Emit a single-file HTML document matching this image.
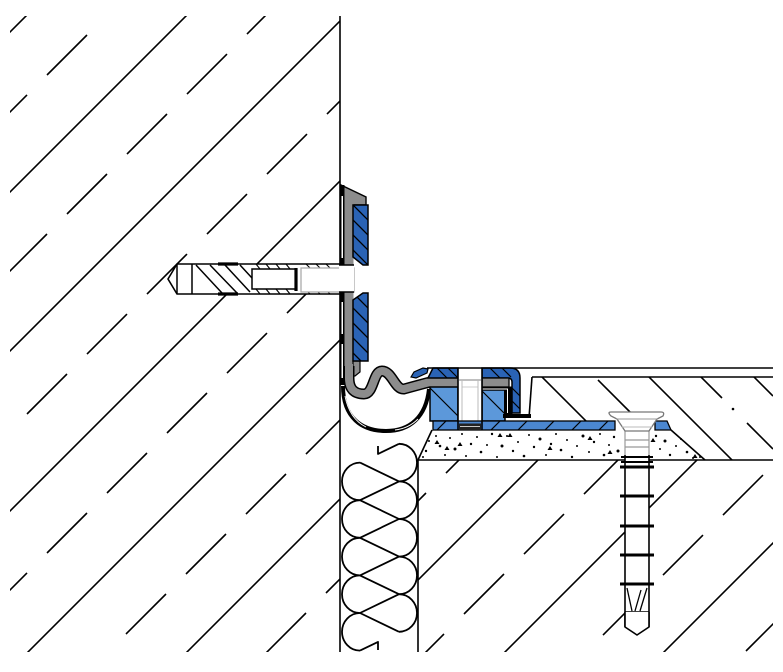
<!DOCTYPE html>
<html><head><meta charset="utf-8">
<style>html,body{margin:0;padding:0;background:#fff;width:783px;height:672px;overflow:hidden}svg{display:block;overflow:hidden}</style>
</head>
<body>
<svg width="783" height="672" viewBox="0 0 783 672" xmlns="http://www.w3.org/2000/svg">
<defs>
<clipPath id="cL"><rect x="10" y="16" width="330" height="636"/></clipPath>
<clipPath id="cR"><rect x="418" y="460" width="355" height="192"/></clipPath>
<clipPath id="cS"><polygon points="532,377 773,377 773,460 705,460 671,430 667,421 532,421"/></clipPath>
<clipPath id="cBU"><polygon points="353,205 368,205 368,265 363,265 353,257"/></clipPath>
<clipPath id="cBL"><polygon points="353,300 363,293 368,293 368,361 353,361"/></clipPath>
<g id="hatch" stroke="#000" stroke-width="1.6" fill="none">
<line x1="0" y1="42" x2="42" y2="0"/>
<line x1="0" y1="202" x2="202" y2="0"/>
<line x1="0" y1="361" x2="361" y2="0"/>
<line x1="0" y1="521" x2="521" y2="0"/>
<line x1="8" y1="672" x2="680" y2="0"/>
<line x1="167" y1="672" x2="783" y2="56"/>
<line x1="326" y1="672" x2="783" y2="215"/>
<line x1="485" y1="672" x2="783" y2="374"/>
<line x1="644" y1="672" x2="783" y2="533"/>
<g stroke-dasharray="56.57 28.28">
<line x1="0" y1="122" x2="122" y2="0" stroke-dashoffset="18.38"/>
<line x1="0" y1="281" x2="281" y2="0" stroke-dashoffset="74.95"/>
<line x1="0" y1="441" x2="441" y2="0" stroke-dashoffset="46.67"/>
<line x1="0" y1="600" x2="600" y2="0" stroke-dashoffset="18.38"/>
<line x1="88" y1="672" x2="760" y2="0" stroke-dashoffset="31.11"/>
<line x1="247" y1="672" x2="783" y2="136" stroke-dashoffset="57.98"/>
<line x1="406" y1="672" x2="783" y2="295" stroke-dashoffset="2.83"/>
<line x1="566" y1="672" x2="783" y2="455" stroke-dashoffset="32.53"/>
<line x1="725" y1="672" x2="783" y2="614" stroke-dashoffset="55.15"/>
</g>
</g>
</defs>
<rect width="783" height="672" fill="#fff"/>

<!-- concrete hatching -->
<use href="#hatch" clip-path="url(#cL)"/>
<use href="#hatch" clip-path="url(#cR)"/>

<!-- screed hatch -->
<g clip-path="url(#cS)" stroke="#000" stroke-width="1.6">
<line x1="532" y1="367" x2="600" y2="435"/>
<line x1="598" y1="380" x2="634" y2="416"/>
<line x1="640" y1="368" x2="740" y2="468"/>
<line x1="701" y1="377" x2="722" y2="398"/>
<line x1="747" y1="423" x2="773" y2="449"/>
<line x1="750" y1="373" x2="773" y2="396"/>
</g>
<circle cx="733" cy="409" r="1.3" fill="#000"/>

<!-- mortar bed dots -->
<g fill="#000">
<circle cx="436" cy="436" r="1"/><circle cx="440" cy="446" r="1.3"/><circle cx="445" cy="455" r="1"/><circle cx="450" cy="438" r="1"/><circle cx="455" cy="449" r="1.5"/><circle cx="462" cy="434" r="1"/><circle cx="466" cy="456" r="1"/><circle cx="471" cy="444" r="1.2"/><circle cx="477" cy="437" r="1"/><circle cx="481" cy="452" r="1.3"/><circle cx="487" cy="445" r="1"/><circle cx="492" cy="434" r="1.2"/><circle cx="497" cy="457" r="1"/><circle cx="502" cy="446" r="1.5"/><circle cx="507" cy="436" r="1"/><circle cx="513" cy="451" r="1.2"/><circle cx="518" cy="442" r="1"/><circle cx="524" cy="456" r="1.3"/><circle cx="529" cy="435" r="1"/><circle cx="534" cy="447" r="1.2"/><circle cx="540" cy="439" r="1.5"/><circle cx="546" cy="455" r="1"/><circle cx="551" cy="444" r="1.2"/><circle cx="556" cy="434" r="1"/><circle cx="561" cy="450" r="1.3"/><circle cx="567" cy="440" r="1"/><circle cx="572" cy="457" r="1.2"/><circle cx="577" cy="446" r="1"/><circle cx="583" cy="436" r="1.5"/><circle cx="589" cy="452" r="1"/><circle cx="594" cy="442" r="1.2"/><circle cx="600" cy="434" r="1"/><circle cx="604" cy="455" r="1.3"/><circle cx="609" cy="445" r="1"/><circle cx="614" cy="437" r="1.2"/><circle cx="618" cy="451" r="1.5"/><circle cx="656" cy="436" r="1.2"/><circle cx="660" cy="449" r="1"/><circle cx="665" cy="441" r="1.5"/><circle cx="670" cy="455" r="1.2"/><circle cx="676" cy="446" r="1"/><circle cx="681" cy="439" r="1"/><circle cx="687" cy="452" r="1.3"/><circle cx="693" cy="458" r="1"/><circle cx="426" cy="451" r="1.2"/><circle cx="429" cy="441" r="1"/><circle cx="423" cy="457" r="1"/><circle cx="700" cy="457" r="1"/>
<polygon points="437,440 439.5,444 434.5,444"/><polygon points="447,446 449.5,450 444.5,450"/><polygon points="500,433 502.5,437 497.5,437"/><polygon points="510,433 512.5,437 507.5,437"/><polygon points="610,450 612.5,454 607.5,454"/><polygon points="653,438 655.5,442 650.5,442"/><polygon points="695,454 697.5,458 692.5,458"/><polygon points="550,446 552.5,450 547.5,450"/><polygon points="460,442 462.5,446 457.5,446"/><polygon points="590,436 592.5,440 587.5,440"/>
</g>

<!-- structural lines -->
<g stroke="#000" stroke-width="1.6" fill="none">
<line x1="340" y1="16" x2="340" y2="652"/>
<line x1="418" y1="460" x2="418" y2="652"/>
<line x1="418" y1="460" x2="773" y2="460"/>
<line x1="418" y1="460" x2="432" y2="430"/>
<line x1="671" y1="430" x2="705" y2="460"/>
<line x1="532" y1="377" x2="773" y2="377"/>
<line x1="532" y1="377" x2="529" y2="418"/>
</g>

<!-- insulation -->
<g stroke="#000" stroke-width="1.8" fill="none" stroke-linejoin="round">
<polyline points="360,462.6 399,481.4 360,500.2 399,519 360,537.8 399,556.6 360,575.4 399,594.2 360,613 399,631.8"/>
<polyline points="378,446 378,454 399,443.8"/>
<polyline points="360,650.6 378,641.9 378,650"/>
<path d="M399,443.8 A18,18.8 0 0 1 399,481.4 A18,18.8 0 0 1 399,519 A18,18.8 0 0 1 399,556.6 A18,18.8 0 0 1 399,594.2 A18,18.8 0 0 1 399,631.8"/>
<path d="M360,462.6 A18,18.8 0 0 0 360,500.2 A18,18.8 0 0 0 360,537.8 A18,18.8 0 0 0 360,575.4 A18,18.8 0 0 0 360,613 A18,18.8 0 0 0 360,650.6"/>
</g>

<!-- wall anchor -->
<polygon points="168,279 177,264 340,264 340,294 177,294" fill="#fff" stroke="#000" stroke-width="1.6"/>
<g stroke="#000" stroke-width="1.5" fill="none">
<line x1="177" y1="264" x2="177" y2="294"/>
<line x1="192" y1="264" x2="192" y2="294"/>
<line x1="196" y1="265" x2="222" y2="293"/>
<line x1="210" y1="265" x2="237" y2="293"/>
<line x1="225" y1="265" x2="250" y2="292"/>
<line x1="240" y1="265" x2="252" y2="278"/>
<rect x="252" y="269" width="44" height="20" fill="#fff"/>
</g>
<g stroke="#000" stroke-width="3.2">
<line x1="218" y1="264" x2="238" y2="264"/>
<line x1="218" y1="294" x2="238" y2="294"/>
<line x1="296" y1="268" x2="296" y2="291"/>
</g>
<g stroke="#000" stroke-width="1.1">
<line x1="256" y1="264" x2="260" y2="269"/><line x1="266" y1="264" x2="270" y2="269"/><line x1="276" y1="264" x2="280" y2="269"/><line x1="286" y1="264" x2="290" y2="269"/><line x1="306" y1="264" x2="310" y2="268"/><line x1="316" y1="264" x2="320" y2="268"/><line x1="326" y1="264" x2="330" y2="268"/>
<line x1="256" y1="289" x2="260" y2="294"/><line x1="266" y1="289" x2="270" y2="294"/><line x1="276" y1="289" x2="280" y2="294"/><line x1="286" y1="289" x2="290" y2="294"/><line x1="306" y1="290" x2="310" y2="294"/><line x1="316" y1="290" x2="320" y2="294"/><line x1="326" y1="290" x2="330" y2="294"/>
</g>
<rect x="301" y="268" width="53" height="24" fill="#fff" stroke="#aaa" stroke-width="1.3"/>

<!-- vertical profile leg -->
<polygon points="341,185 366,197 366,205 344,205" fill="#8c8c8c" stroke="#000" stroke-width="1.4"/>
<rect x="344" y="200" width="9.5" height="180" fill="#8c8c8c"/>
<polygon points="353,361 360,361 360,372 355,376 353,376" fill="#8c8c8c" stroke="#000" stroke-width="1.2"/>
<rect x="339.5" y="185" width="5" height="200" fill="#000"/>
<g fill="#fff">
<rect x="341.5" y="196" width="1.5" height="62"/>
<rect x="341.5" y="302" width="1.5" height="32"/>
<rect x="341.5" y="344" width="1.5" height="34"/>
</g>
<!-- gray wave band -->
<path d="M349,366 L349,378 Q349,394 364,394 C374,394 373,371 382,371 C392,371 395,390 404,389 L428,382.5 L458,382.5" fill="none" stroke="#000" stroke-width="11" stroke-linejoin="round"/>
<path d="M349,364 L349,378 Q349,394 364,394 C374,394 373,371 382,371 C392,371 395,390 404,389 L428,382.5 L458,382.5" fill="none" stroke="#8c8c8c" stroke-width="8" stroke-linejoin="round"/>
<!-- bulb seal -->
<path d="M343,386 C343,418 362,431 386,431 C410,431 426,417 429,389" fill="none" stroke="#000" stroke-width="4"/>
<path d="M345,396 C348,412 356,422 366,427" fill="none" stroke="#fff" stroke-width="0.9"/>
<path d="M395,430 C404,429 412,425 418,419" fill="none" stroke="#fff" stroke-width="0.9"/>

<!-- bolt head gap -->
<rect x="339" y="265" width="15" height="27" fill="#fff"/>
<line x1="339" y1="265" x2="354" y2="265" stroke="#000" stroke-width="1.5"/>
<line x1="339" y1="292" x2="354" y2="292" stroke="#000" stroke-width="1.5"/>
<!-- blue gaskets -->
<polygon points="353,205 368,205 368,265 363,265 353,257" fill="#2a63b5" stroke="#000" stroke-width="1.5"/>
<polygon points="353,300 363,293 368,293 368,361 353,361" fill="#2a63b5" stroke="#000" stroke-width="1.5"/>
<g stroke="#000" stroke-width="1.3">
<g clip-path="url(#cBU)">
<line x1="353" y1="205" x2="368" y2="220"/><line x1="353" y1="220" x2="368" y2="235"/><line x1="353" y1="235" x2="368" y2="250"/><line x1="353" y1="250" x2="368" y2="265"/>
</g>
<g clip-path="url(#cBL)">
<line x1="353" y1="293" x2="368" y2="308"/><line x1="353" y1="308" x2="368" y2="323"/><line x1="353" y1="323" x2="368" y2="338"/><line x1="353" y1="338" x2="368" y2="353"/><line x1="353" y1="353" x2="368" y2="368"/>
</g>
</g>

<!-- floor profile -->
<polygon points="411,377 414,372 423,368 428,369 427,373 416,378" fill="#2a63b5" stroke="#000" stroke-width="1.2"/>
<polygon points="428,378 433,368 458,368 458,378" fill="#2a63b5" stroke="#000" stroke-width="1.5"/>
<line x1="437" y1="368" x2="447" y2="378" stroke="#000" stroke-width="1.2"/>
<line x1="448" y1="368" x2="458" y2="378" stroke="#000" stroke-width="1.2"/>
<rect x="430" y="387" width="28" height="34" fill="#5c98da" stroke="#000" stroke-width="1.5"/>
<line x1="430" y1="388" x2="458" y2="416" stroke="#000" stroke-width="1.2"/>
<!-- right part -->
<rect x="482" y="386.5" width="30" height="4.5" fill="#000"/>
<rect x="482" y="390" width="23" height="31" fill="#5c98da" stroke="#000" stroke-width="1.5"/>
<line x1="482" y1="391" x2="505" y2="414" stroke="#000" stroke-width="1.2"/>
<rect x="504" y="386.5" width="8.5" height="29" fill="#000"/>
<polyline points="482,389 507.5,389 507.5,413" fill="none" stroke="#fff" stroke-width="1"/>
<rect x="503" y="414" width="28" height="4" fill="#000"/>
<path d="M482,368 L510,368 Q520,368 520,378 L520,413 L512,413 L512,382 Q512,378 508,378 L482,378 Z" fill="#2a63b5" stroke="#000" stroke-width="1.5"/>
<g stroke="#000" stroke-width="1.2">
<line x1="490" y1="368" x2="500" y2="378"/><line x1="502" y1="368" x2="511" y2="377"/>
<line x1="512" y1="388" x2="520" y2="396"/><line x1="512" y1="401" x2="520" y2="409"/>
</g>
<rect x="482" y="378" width="27" height="9" fill="#8c8c8c" stroke="#000" stroke-width="1.3"/>
<!-- hole with screw -->
<rect x="458" y="368" width="24" height="56" fill="#fff"/>
<line x1="459" y1="380" x2="481" y2="380" stroke="#999" stroke-width="1.2"/>
<line x1="462" y1="387" x2="478" y2="387" stroke="#ccc" stroke-width="1"/>
<line x1="462" y1="380" x2="462" y2="424" stroke="#bbb" stroke-width="1"/>
<line x1="478" y1="380" x2="478" y2="424" stroke="#bbb" stroke-width="1"/>
<!-- strip -->
<rect x="433" y="421" width="182" height="9" fill="#4b87d0" stroke="#000" stroke-width="1.3"/>
<polygon points="655,421 667,421 671,430 655,430" fill="#4b87d0" stroke="#000" stroke-width="1.3"/>
<g stroke="#000" stroke-width="1.2">
<line x1="437" y1="430" x2="446" y2="421"/><line x1="491" y1="430" x2="500" y2="421"/><line x1="518" y1="430" x2="527" y2="421"/><line x1="545" y1="430" x2="554" y2="421"/><line x1="572" y1="430" x2="581" y2="421"/><line x1="599" y1="430" x2="608" y2="421"/>
</g>
<rect x="459" y="423.5" width="22" height="6.5" fill="#222"/>
<line x1="460" y1="426.5" x2="480" y2="426.5" stroke="#fff" stroke-width="0.8"/>
<g stroke="#000" stroke-width="1.6">
<line x1="458" y1="368" x2="458" y2="430"/>
<line x1="482" y1="368" x2="482" y2="430"/>
</g>
<!-- top covering line -->
<line x1="427" y1="368" x2="773" y2="368" stroke="#000" stroke-width="1.6"/>

<!-- floor screw -->
<rect x="625" y="430" width="24" height="182" fill="#fff"/>
<g stroke="#999" stroke-width="1.2">
<line x1="625" y1="431" x2="625" y2="455"/><line x1="649" y1="431" x2="649" y2="455"/>
<line x1="625" y1="440" x2="649" y2="440"/><line x1="625" y1="447" x2="649" y2="447"/>
</g>
<g stroke="#000" stroke-width="1.6">
<line x1="625" y1="455" x2="625" y2="627"/><line x1="649" y1="455" x2="649" y2="627"/>
<line x1="625" y1="612" x2="649" y2="612"/>
</g>
<path d="M611,412 L661,412 Q665,412 663,416 L657,419 L649,431 L625,431 L617,419 L611,416 Q607,412 611,412 Z" fill="#fff" stroke="#777" stroke-width="1.3"/>
<line x1="616" y1="419" x2="658" y2="419" stroke="#999" stroke-width="1"/>
<line x1="622" y1="427" x2="652" y2="427" stroke="#bbb" stroke-width="1"/>
<g stroke="#000">
<line x1="621" y1="457" x2="653" y2="457" stroke-width="2"/>
<line x1="621" y1="462" x2="653" y2="462" stroke-width="2"/>
<line x1="620" y1="467" x2="654" y2="467" stroke-width="3"/>
<line x1="620" y1="496" x2="654" y2="496" stroke-width="3"/>
<line x1="620" y1="526" x2="654" y2="526" stroke-width="3"/>
<line x1="620" y1="555" x2="654" y2="555" stroke-width="3"/>
<line x1="620" y1="584" x2="654" y2="584" stroke-width="3"/>
</g>
<g stroke="#000" stroke-width="1.3">
<line x1="627" y1="588" x2="632" y2="611"/>
<line x1="647" y1="588" x2="640" y2="611"/>
<line x1="641" y1="590" x2="635" y2="611"/>
</g>
<path d="M625,612 L625,627 L637,635 L649,627 L649,612" fill="#fff" stroke="#000" stroke-width="1.6" stroke-linejoin="round"/>
</svg>
</body></html>
